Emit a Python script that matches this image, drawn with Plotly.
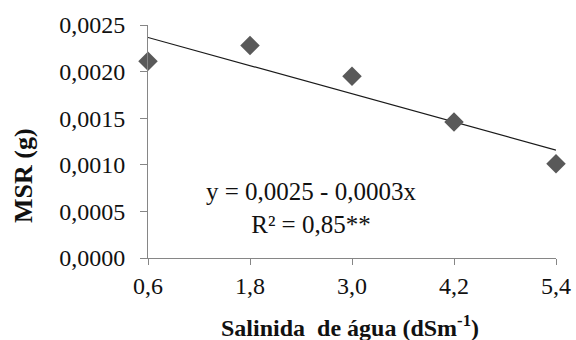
import numpy as np
import plotly.graph_objects as go

salinity = [0.6, 1.8, 3.0, 4.2, 5.4]
msr = [0.00211, 0.00228, 0.00195, 0.00146, 0.00101]
x_ticktext = ["0,6", "1,8", "3,0", "4,2", "5,4"]
y_tickvals = [0.0, 0.0005, 0.0010, 0.0015, 0.0020, 0.0025]
y_ticktext = ["0,0000", "0,0005", "0,0010", "0,0015", "0,0020", "0,0025"]

slope, intercept = np.polyfit(salinity, msr, 1)
trend_x = [salinity[0], salinity[-1]]
trend_y = [intercept + slope * v for v in trend_x]

FONT = "Times New Roman"
AXC = "#868686"
TXT = "#111111"

fig = go.Figure()
fig.add_trace(go.Scatter(
    x=trend_x, y=trend_y, mode="lines",
    line=dict(color="#1a1a1a", width=1.2), showlegend=False, cliponaxis=False))
fig.add_trace(go.Scatter(
    x=salinity, y=msr, mode="markers",
    marker=dict(symbol="diamond", size=15, color="#595959"),
    showlegend=False, cliponaxis=False))

fig.update_layout(
    width=576, height=340,
    margin=dict(l=148, r=20, t=25, b=82),
    paper_bgcolor="white", plot_bgcolor="white",
    font=dict(family=FONT, size=24, color=TXT),
    xaxis=dict(range=[0.6, 5.4], tickvals=salinity, ticktext=x_ticktext,
               showgrid=False, zeroline=False, showline=True, linecolor=AXC,
               linewidth=1, ticks="outside", ticklen=6, tickcolor=AXC,
               automargin=False,
               tickfont=dict(size=24, family=FONT, color=TXT)),
    yaxis=dict(range=[0, 0.0025], tickvals=y_tickvals, ticktext=y_ticktext,
               showgrid=False, zeroline=False, showline=True, linecolor=AXC,
               linewidth=1, ticks="outside", ticklen=7, tickcolor=AXC,
               automargin=False, ticklabelstandoff=10,
               tickfont=dict(size=24, family=FONT, color=TXT)),
)

fig.add_annotation(
    xref="paper", yref="paper", x=(311 - 148) / 408, y=(258 - 208) / 233,
    xanchor="center", yanchor="middle", showarrow=False,
    text="y = 0,0025 - 0,0003x<br>R² = 0,85**", align="center",
    font=dict(size=25, family=FONT, color=TXT))

fig.add_annotation(
    xref="paper", yref="paper", x=(23 - 148) / 408, y=(258 - 175) / 233,
    xanchor="center", yanchor="middle",
    showarrow=False, textangle=-90, text="<b>MSR (g)</b>",
    font=dict(size=26, family=FONT, color=TXT))

fig.add_annotation(
    xref="paper", yref="paper", x=(350 - 148) / 408, y=(258 - 326) / 233,
    xanchor="center", yanchor="middle",
    showarrow=False, text="<b>Salinida\u00a0 de água (dSm<sup>-1</sup>)</b>",
    font=dict(size=24, family=FONT, color=TXT))

fig.write_html("out.html", config={"displayModeBar": False},
               post_script="document.body.style.margin='0';document.body.style.padding='0';")
